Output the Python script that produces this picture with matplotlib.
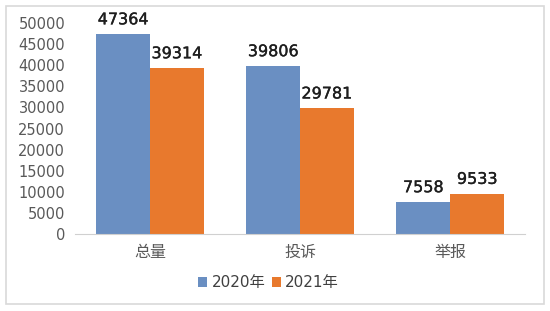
import matplotlib.pyplot as plt
import matplotlib.patheffects as pe
import numpy as np
from matplotlib.patches import Rectangle

plt.rcParams['font.family'] = ['DejaVu Sans', 'Noto Sans CJK SC']

categories = ['总量', '投诉', '举报']
series_names = ['2020年', '2021年']
values_2020 = [47364, 39806, 7558]
values_2021 = [39314, 29781, 9533]
yticks = [0, 5000, 10000, 15000, 20000, 25000, 30000, 35000, 40000, 45000, 50000]

blue = '#6A8FC2'
orange = '#E8792D'

fig = plt.figure(figsize=(5.5, 3.11), dpi=100)
ax = fig.add_axes([0.136, 0.2476, 0.819, 0.678])

# light frame around the whole chart
fig.patches.append(Rectangle((0.011, 0.022), 0.978, 0.96, transform=fig.transFigure,
                             fill=False, edgecolor='#D9D9D9', linewidth=1.2))

x = np.arange(len(categories))
w = 0.358
b1 = ax.bar(x - w / 2, values_2020, w, color=blue, label=series_names[0])
b2 = ax.bar(x + w / 2, values_2021, w, color=orange, label=series_names[1])

# value labels, a touch heavier than regular weight
for bars, vals in [(b1, values_2020), (b2, values_2021)]:
    for rect, v in zip(bars, vals):
        ax.annotate(str(v), (rect.get_x() + rect.get_width() / 2, v),
                    xytext=(0, 5), textcoords='offset points',
                    ha='center', va='bottom', fontsize=11.5,
                    color='#1E1E1E',
                    path_effects=[pe.withStroke(linewidth=0.25, foreground='#1E1E1E')])

ax.set_xlim(-0.5, 2.5)
ax.set_ylim(0, 50000)
ax.set_yticks(yticks)
ax.set_yticklabels([str(t) for t in yticks], fontsize=10.5, color='#595959')
ax.set_xticks(x)
ax.set_xticklabels(categories, fontsize=11.5, color='#595959',
                   family=['Noto Sans CJK SC', 'DejaVu Sans'])
ax.tick_params(axis='y', length=0, pad=7)
ax.tick_params(axis='x', length=0, pad=7)

for s in ['top', 'right', 'left']:
    ax.spines[s].set_visible(False)
ax.spines['bottom'].set_color('#D0D0D0')

leg = ax.legend(loc='upper center', bbox_to_anchor=(0.43, -0.13), ncol=2, frameon=False,
                handlelength=0.6, handleheight=0.6, handletextpad=0.3, columnspacing=0.4,
                prop={'family': ['DejaVu Sans', 'Noto Sans CJK SC'], 'size': 11})
for t in leg.get_texts():
    t.set_color('#404040')

fig.savefig('out.png', dpi=100)
